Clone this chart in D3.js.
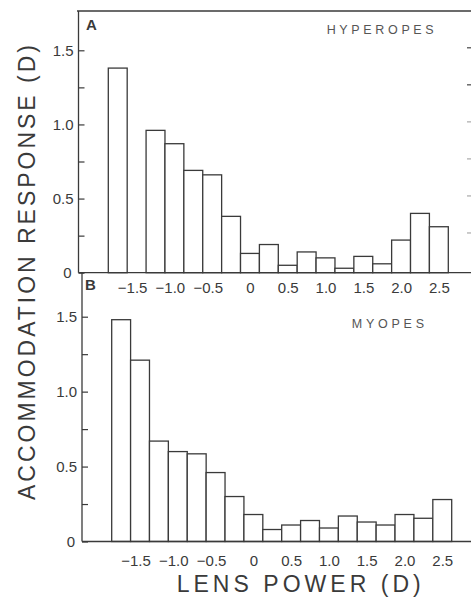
<!DOCTYPE html>
<html>
<head>
<meta charset="utf-8">
<script src="https://cdn.jsdelivr.net/npm/d3@7"></script>
<style>
  html, body { margin: 0; padding: 0; background: #fff; }
  svg { display: block; font-family: "Liberation Sans", Arial, Helvetica, sans-serif; }
</style>
</head>
<body>
<svg id="chart" width="471" height="597"></svg>
<script>
// Lens power bins (D), 0.25 D apart
const lensPower = [-1.75, -1.5, -1.25, -1.0, -0.75, -0.5, -0.25, 0, 0.25, 0.5,
                   0.75, 1.0, 1.25, 1.5, 1.75, 2.0, 2.25, 2.5];
// Mean accommodation response (D) for each lens power
const hyperopes = [1.38, 0, 0.96, 0.87, 0.69, 0.66, 0.38, 0.13, 0.19, 0.05,
                   0.14, 0.10, 0.03, 0.11, 0.06, 0.22, 0.40, 0.31];
const myopes    = [1.48, 1.21, 0.67, 0.60, 0.585, 0.46, 0.30, 0.18, 0.08, 0.11,
                   0.14, 0.09, 0.17, 0.13, 0.11, 0.18, 0.155, 0.28];
// Axis ticks
const xTickValues = [-1.5, -1.0, -0.5, 0, 0.5, 1.0, 1.5, 2.0, 2.5];
const yTickValues = [0, 0.25, 0.5, 0.75, 1.0, 1.25, 1.5];
const yLabelValues = [0, 0.5, 1.0, 1.5];

const svg = d3.select("#chart");
const ink = "#3a3a3a";
const binW = 0.25;

const panels = [
  { key: "A", title: "HYPEROPES", values: hyperopes,
    axisX: 78.5, x0: 108.3, x1: 448.3, yZero: 272.7, yTop: 50.3,
    frameTop: 11, tickPad: 9.3, letter: [86, 29.5], titlePos: [326.7, 34, 107] },
  { key: "B", title: "MYOPES", values: myopes,
    axisX: 82, x0: 111.7, x1: 451.7, yZero: 541.5, yTop: 316.7,
    frameTop: 272.7, tickPad: 14.3, letter: [85, 290], titlePos: [351.7, 328, 72.3] }
];

const fmt = v => v === 0 ? "0" : d3.format(".1f")(v);

panels.forEach(p => {
  const x = d3.scaleLinear()
    .domain([lensPower[0] - binW / 2, lensPower[lensPower.length - 1] + binW / 2])
    .range([p.x0, p.x1]);
  const y = d3.scaleLinear().domain([0, 1.5]).range([p.yZero, p.yTop]);
  const g = svg.append("g");

  // bars
  g.selectAll("rect.bar")
    .data(lensPower.map((lp, i) => ({ lp, v: p.values[i] })))
    .join("rect")
    .attr("class", "bar")
    .attr("x", d => x(d.lp - binW / 2))
    .attr("width", d => x(d.lp + binW / 2) - x(d.lp - binW / 2))
    .attr("y", d => y(d.v))
    .attr("height", d => y(0) - y(d.v))
    .attr("fill", "#fff")
    .attr("stroke", ink)
    .attr("stroke-width", 1.3);

  // left axis line
  g.append("line")
    .attr("x1", p.axisX).attr("x2", p.axisX)
    .attr("y1", p.frameTop).attr("y2", p.yZero)
    .attr("stroke", ink).attr("stroke-width", 1.3);

  // baseline
  g.append("line")
    .attr("x1", p.axisX).attr("x2", 471)
    .attr("y1", p.yZero).attr("y2", p.yZero)
    .attr("stroke", ink).attr("stroke-width", 1.3);

  // y axis ticks (inward) and labels
  const yAxis = d3.axisLeft(y)
    .tickValues(yTickValues)
    .tickSizeInner(-6)
    .tickSizeOuter(0)
    .tickPadding(5)
    .tickFormat(v => yLabelValues.includes(v) ? fmt(v) : "");
  const ya = g.append("g")
    .attr("transform", `translate(${p.axisX},0)`)
    .call(yAxis);
  ya.select(".domain").remove();
  ya.selectAll("line").attr("stroke", ink).attr("stroke-width", 1.2);
  ya.selectAll("text")
    .attr("fill", ink)
    .style("font-size", "15px")
    .attr("dx", v => v === 0 ? "-2" : "0");

  // x axis labels
  const xAxis = d3.axisBottom(x)
    .tickValues(xTickValues)
    .tickSize(0)
    .tickPadding(p.tickPad)
    .tickFormat(fmt);
  const xa = g.append("g")
    .attr("transform", `translate(0,${p.yZero})`)
    .call(xAxis);
  xa.select(".domain").remove();
  xa.selectAll("text")
    .attr("fill", ink)
    .style("font-size", "15px")
    .attr("dx", v => v < 0 ? -4.5 : 0);

  // panel letter
  g.append("text")
    .attr("x", p.letter[0]).attr("y", p.letter[1])
    .attr("fill", ink)
    .style("font-size", "15px")
    .style("font-weight", "bold")
    .text(p.key);

  // group title
  g.append("text")
    .attr("x", p.titlePos[0]).attr("y", p.titlePos[1])
    .attr("textLength", p.titlePos[2])
    .attr("lengthAdjust", "spacing")
    .attr("fill", "#555")
    .style("font-size", "12.5px")
    .text(p.title);
});

// top frame of panel A
svg.append("line")
  .attr("x1", 77).attr("x2", 471)
  .attr("y1", 11).attr("y2", 11)
  .attr("stroke", ink).attr("stroke-width", 1.3);

// partial tick marks along the right edge
const yRight = d3.scaleLinear().domain([0, 1.5]).range([270, 47.8]);
svg.selectAll("line.rtick")
  .data(yTickValues.filter(v => v > 0))
  .join("line")
  .attr("class", "rtick")
  .attr("x1", 467).attr("x2", 471)
  .attr("y1", v => yRight(v)).attr("y2", v => yRight(v))
  .attr("stroke", v => v >= 1.25 ? "#444" : "#aaa")
  .attr("stroke-width", 1.2);

// axis titles
svg.append("text")
  .attr("transform", "translate(35,272.5) rotate(-90)")
  .attr("text-anchor", "middle")
  .attr("textLength", 455)
  .attr("lengthAdjust", "spacing")
  .attr("fill", ink)
  .style("font-size", "23px")
  .text("ACCOMMODATION RESPONSE (D)");

svg.append("text")
  .attr("x", 298.7).attr("y", 591.7)
  .attr("text-anchor", "middle")
  .attr("textLength", 244)
  .attr("lengthAdjust", "spacing")
  .attr("fill", ink)
  .style("font-size", "23px")
  .text("LENS POWER (D)");
</script>
</body>
</html>
